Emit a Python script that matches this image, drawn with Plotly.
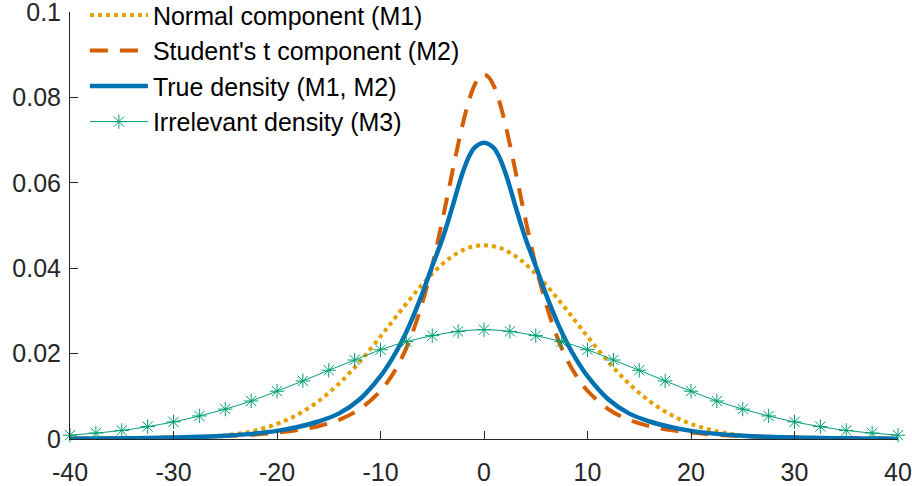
import plotly.graph_objects as go

# x grid for the three density curves
x_grid = [-40, -37.5, -35, -32.5, -30, -27.5, -25, -22.5, -20, -18, -16, -14, -12, -10,
          -9, -8, -7, -6, -5, -4, -3.5, -3, -2.5, -2, -1.5, -1, -0.5, 0,
          0.5, 1, 1.5, 2, 2.5, 3, 3.5, 4, 5, 6, 7, 8, 9, 10,
          12, 14, 16, 18, 20, 22.5, 25, 27.5, 30, 32.5, 35, 37.5, 40]

normal_m1 = [0.0, 0.00001, 0.00002, 0.00005, 0.00014, 0.00036, 0.00084, 0.00179, 0.00353, 0.00573,
             0.00885, 0.0130, 0.0181, 0.0240, 0.0271, 0.0302, 0.0332, 0.0361, 0.0387, 0.0410,
             0.0420, 0.0429, 0.0436, 0.0443, 0.0448, 0.0451, 0.0453, 0.0454,
             0.0453, 0.0451, 0.0448, 0.0443, 0.0436, 0.0429, 0.0420, 0.0410, 0.0387, 0.0361,
             0.0332, 0.0302, 0.0271, 0.0240, 0.0181, 0.0130, 0.00885, 0.00573, 0.00353, 0.00179,
             0.00084, 0.00036, 0.00014, 0.00005, 0.00002, 0.00001, 0.0]

student_m2 = [0.00012, 0.00015, 0.0002, 0.00026, 0.00035, 0.00048, 0.00068, 0.00098, 0.0015, 0.0021,
              0.0030, 0.0045, 0.0070, 0.0113, 0.0145, 0.0187, 0.0243, 0.0316, 0.0406, 0.0515,
              0.0573, 0.0632, 0.0690, 0.0743, 0.0789, 0.0824, 0.0846, 0.0854,
              0.0846, 0.0824, 0.0789, 0.0743, 0.0690, 0.0632, 0.0573, 0.0515, 0.0406, 0.0316,
              0.0243, 0.0187, 0.0145, 0.0113, 0.0070, 0.0045, 0.0030, 0.0021, 0.0015, 0.00098,
              0.00068, 0.00048, 0.00035, 0.00026, 0.0002, 0.00015, 0.00012]

true_m12 = [0.00008, 0.00011, 0.00016, 0.00023, 0.00033, 0.0005, 0.00075, 0.0012, 0.0019, 0.0028,
            0.0041, 0.0060, 0.0093, 0.0147, 0.0183, 0.0226, 0.0278, 0.0338, 0.0405, 0.0470,
            0.0508, 0.0548, 0.0590, 0.0628, 0.0659, 0.0680, 0.0690, 0.0694,
            0.0690, 0.0680, 0.0659, 0.0628, 0.0590, 0.0548, 0.0508, 0.0470, 0.0405, 0.0338,
            0.0278, 0.0226, 0.0183, 0.0147, 0.0093, 0.0060, 0.0041, 0.0028, 0.0019, 0.0012,
            0.00075, 0.0005, 0.00033, 0.00023, 0.00016, 0.00011, 0.00008]

# irrelevant density, sampled where its markers are drawn
x_m3 = [-40, -37.5, -35, -32.5, -30, -27.5, -25, -22.5, -20, -17.5, -15, -12.5, -10, -7.5, -5, -2.5,
        0, 2.5, 5, 7.5, 10, 12.5, 15, 17.5, 20, 22.5, 25, 27.5, 30, 32.5, 35, 37.5, 40]
irrelevant_m3 = [0.0009, 0.0014, 0.0020, 0.0029, 0.0040, 0.0054, 0.0070, 0.0089, 0.0112, 0.0136,
                 0.0161, 0.0185, 0.0209, 0.0228, 0.0242, 0.0252, 0.0256, 0.0252, 0.0242, 0.0228,
                 0.0209, 0.0185, 0.0161, 0.0136, 0.0112, 0.0089, 0.0070, 0.0054, 0.0040, 0.0029,
                 0.0020, 0.0014, 0.0009]

x_tickvals = [-40, -30, -20, -10, 0, 10, 20, 30, 40]
x_ticktext = ["-40", "-30", "-20", "-10", "0", "10", "20", "30", "40"]
y_tickvals = [0, 0.02, 0.04, 0.06, 0.08, 0.1]
y_ticktext = ["0", "0.02", "0.04", "0.06", "0.08", "0.1"]

names = ["Normal component (M1)", "Student's t component (M2)",
         "True density (M1, M2)", "Irrelevant density (M3)"]

FONT = "Liberation Sans, Arial, Helvetica, sans-serif"
AX = "#262626"
FS = 25

fig = go.Figure()
fig.add_trace(go.Scatter(x=x_grid, y=normal_m1, mode="lines", name=names[0],
                         line=dict(color="#E69F00", width=4, dash="4px,4px", shape="spline")))
fig.add_trace(go.Scatter(x=x_grid, y=student_m2, mode="lines", name=names[1],
                         line=dict(color="#D55E00", width=4, dash="18px,12px", shape="spline")))
fig.add_trace(go.Scatter(x=x_grid, y=true_m12, mode="lines", name=names[2],
                         line=dict(color="#0072B2", width=4.5, shape="spline")))
fig.add_trace(go.Scatter(x=x_m3, y=irrelevant_m3, mode="lines+markers", name=names[3],
                         cliponaxis=False,
                         line=dict(color="#009E73", width=1, shape="spline"),
                         marker=dict(symbol="asterisk-open", size=12,
                                     line=dict(color="#009E73", width=1))))

fig.update_layout(
    width=912, height=486,
    margin=dict(l=70, r=14, t=12, b=47, autoexpand=False),
    paper_bgcolor="white", plot_bgcolor="white",
    font=dict(family=FONT, size=FS, color=AX),
    showlegend=True,
    legend=dict(x=0.018, y=1.046, xanchor="left", yanchor="top",
                bgcolor="rgba(0,0,0,0)", borderwidth=0, itemwidth=58,
                font=dict(family=FONT, size=FS, color="black"),
                tracegroupgap=0),
    xaxis=dict(range=[-40, 40], tickvals=x_tickvals, ticktext=x_ticktext,
               ticks="inside", ticklen=8, tickcolor=AX, tickwidth=1,
               ticklabelstandoff=11, automargin=False, ticklabeloverflow="allow",
               showline=True, linecolor=AX, linewidth=1, showgrid=False, zeroline=False,
               tickfont=dict(family=FONT, size=FS, color=AX)),
    yaxis=dict(range=[0, 0.1], tickvals=y_tickvals, ticktext=y_ticktext,
               ticks="inside", ticklen=8, tickcolor=AX, tickwidth=1,
               ticklabelstandoff=3, automargin=False, ticklabeloverflow="allow",
               showline=True, linecolor=AX, linewidth=1, showgrid=False, zeroline=False,
               tickfont=dict(family=FONT, size=FS, color=AX)),
)

fig.write_html("out.html")
